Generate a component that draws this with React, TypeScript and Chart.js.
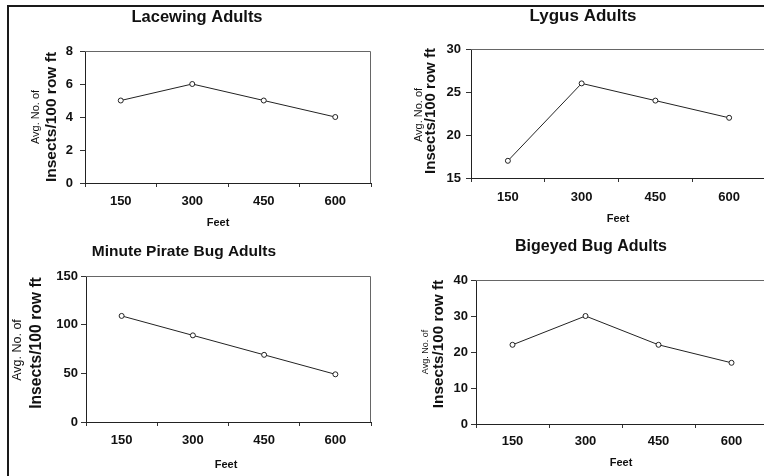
import React, { useEffect, useRef } from "react";
import { Chart, registerables } from "chart.js";

Chart.register(...registerables);

// ---------- data ----------
const feet = ["150", "300", "450", "600"];

const lacewingValues = [5, 6, 5, 4];
const lygusValues = [17, 26, 24, 22];
const pirateBugValues = [109, 89, 69, 49];
const bigeyedValues = [22, 30, 22, 17];

// [min, max, step]
const lacewingAxis = [0, 8, 2];
const lygusAxis = [15, 30, 5];
const pirateBugAxis = [0, 150, 50];
const bigeyedAxis = [0, 40, 10];

const titles = [
  "Lacewing Adults",
  "Lygus Adults",
  "Minute Pirate Bug Adults",
  "Bigeyed Bug Adults",
];
const yTitleSmall = "Avg. No. of";
const yTitleBig = "Insects/100 row ft";
const xTitle = "Feet";

// ---------- layout (page coordinates) ----------
const W = 790;
const H = 476;
const FONT = '"Liberation Sans", Arial, Helvetica, sans-serif';

type Panel = {
  title: string;
  values: number[];
  axis: number[];
  plot: { l: number; t: number; r: number; b: number };
  titleSize: number;
  titleX: number;
  titleY: number;
  ySmall: { x: number; y: number; size: number };
  yBig: { x: number; y: number; size: number };
  xTitlePos: { x: number; y: number };
  yPad: number;
  xPad: number;
};

const panels: Panel[] = [
  {
    title: titles[0],
    values: lacewingValues,
    axis: lacewingAxis,
    plot: { l: 85, t: 51, r: 371, b: 183 },
    titleSize: 16.5,
    titleX: 197,
    titleY: 17,
    ySmall: { x: 36, y: 117, size: 11 },
    yBig: { x: 52, y: 117, size: 15.5 },
    xTitlePos: { x: 218, y: 223 },
    yPad: 7,
    xPad: 7,
  },
  {
    title: titles[1],
    values: lygusValues,
    axis: lygusAxis,
    plot: { l: 471, t: 49, r: 766, b: 178 },
    titleSize: 17,
    titleX: 583,
    titleY: 16,
    ySmall: { x: 419, y: 115, size: 11 },
    yBig: { x: 431, y: 111, size: 15 },
    xTitlePos: { x: 618, y: 219 },
    yPad: 5,
    xPad: 8,
  },
  {
    title: titles[2],
    values: pirateBugValues,
    axis: pirateBugAxis,
    plot: { l: 86, t: 276, r: 371, b: 422 },
    titleSize: 15.5,
    titleX: 184,
    titleY: 252,
    ySmall: { x: 18, y: 350, size: 12.5 },
    yBig: { x: 37, y: 343, size: 15.7 },
    xTitlePos: { x: 226, y: 465 },
    yPad: 3,
    xPad: 7,
  },
  {
    title: titles[3],
    values: bigeyedValues,
    axis: bigeyedAxis,
    plot: { l: 476, t: 280, r: 768, b: 424 },
    titleSize: 16,
    titleX: 591,
    titleY: 247,
    ySmall: { x: 426, y: 352, size: 9 },
    yBig: { x: 439, y: 344, size: 15.3 },
    xTitlePos: { x: 621, y: 463 },
    yPad: 3,
    xPad: 6,
  },
];

const panelTextPlugin = {
  id: "panelText",
  afterDraw(chart: any, _args: any, opts: any) {
    const { ctx, chartArea: a } = chart;
    ctx.save();
    // top and right frame of plot area
    ctx.strokeStyle = "#666";
    ctx.lineWidth = 1;
    ctx.beginPath();
    ctx.moveTo(a.left, a.top + 0.5);
    ctx.lineTo(a.right - 0.5, a.top + 0.5);
    ctx.lineTo(a.right - 0.5, a.bottom);
    ctx.stroke();

    ctx.fillStyle = "#111";
    ctx.textAlign = "center";
    ctx.textBaseline = "middle";
    ctx.font = `bold ${opts.titleSize}px ${FONT}`;
    ctx.fillText(opts.title, opts.titleX, opts.titleY);

    ctx.font = `bold 11px ${FONT}`;
    ctx.fillText(xTitle, opts.xTitlePos.x, opts.xTitlePos.y);

    const lines = [
      { text: yTitleSmall, p: opts.ySmall, weight: "normal" },
      { text: yTitleBig, p: opts.yBig, weight: "bold" },
    ];
    for (const ln of lines) {
      ctx.save();
      ctx.translate(ln.p.x, ln.p.y);
      ctx.rotate(-Math.PI / 2);
      ctx.font = `${ln.weight} ${ln.p.size}px ${FONT}`;
      ctx.fillText(ln.text, 0, 0);
      ctx.restore();
    }
    ctx.restore();
  },
};

function PanelChart({ panel }: { panel: Panel }) {
  const ref = useRef<HTMLCanvasElement | null>(null);
  useEffect(() => {
    if (!ref.current) return;
    const { l, t, r, b } = panel.plot;
    const chart = new Chart(ref.current, {
      type: "line",
      data: {
        labels: feet,
        datasets: [
          {
            data: panel.values,
            borderColor: "#222",
            borderWidth: 1,
            pointRadius: 2.5,
            pointBackgroundColor: "#fff",
            pointBorderColor: "#222",
            pointBorderWidth: 1,
            tension: 0,
          },
        ],
      },
      options: {
        animation: false,
        responsive: false,
        events: [],
        layout: {
          padding: { left: l - 40, top: t, right: W - r, bottom: H - b - 40 },
        },
        plugins: {
          legend: { display: false },
          title: { display: false },
          tooltip: { enabled: false },
          panelText: panel as any,
        } as any,
        scales: {
          x: {
            type: "category",
            offset: true,
            afterFit: (s: any) => {
              s.height = 40;
            },
            grid: {
              offset: true,
              drawOnChartArea: false,
              drawTicks: true,
              tickLength: 4,
              color: "#333",
            },
            border: { color: "#222", width: 1 },
            ticks: {
              color: "#111",
              padding: panel.xPad,
              font: { family: FONT, size: 13, weight: "bold" },
              maxRotation: 0,
            },
          },
          y: {
            min: panel.axis[0],
            max: panel.axis[1],
            afterFit: (s: any) => {
              s.width = 40;
            },
            grid: {
              drawOnChartArea: false,
              drawTicks: true,
              tickLength: 5,
              color: "#333",
            },
            border: { color: "#222", width: 1 },
            ticks: {
              stepSize: panel.axis[2],
              color: "#111",
              padding: panel.yPad,
              font: { family: FONT, size: 13, weight: "bold" },
            },
          },
        },
      } as any,
      plugins: [panelTextPlugin],
    });
    return () => chart.destroy();
  }, [panel]);
  return (
    <canvas
      ref={ref}
      width={W}
      height={H}
      style={{ position: "absolute", left: 0, top: 0, width: W, height: H }}
    />
  );
}

export default function App() {
  useEffect(() => {
    document.body.style.margin = "0";
  }, []);
  return (
    <div
      style={{
        position: "fixed",
        left: 0,
        top: 0,
        width: 764,
        height: 476,
        overflow: "hidden",
        background: "#fff",
      }}
    >
      <div
        style={{
          position: "absolute",
          left: 7,
          top: 5,
          width: 800,
          height: 500,
          borderTop: "2.5px solid #1a1a1a",
          borderLeft: "2.5px solid #1a1a1a",
        }}
      />
      {panels.map((p, i) => (
        <PanelChart key={i} panel={p} />
      ))}
    </div>
  );
}
